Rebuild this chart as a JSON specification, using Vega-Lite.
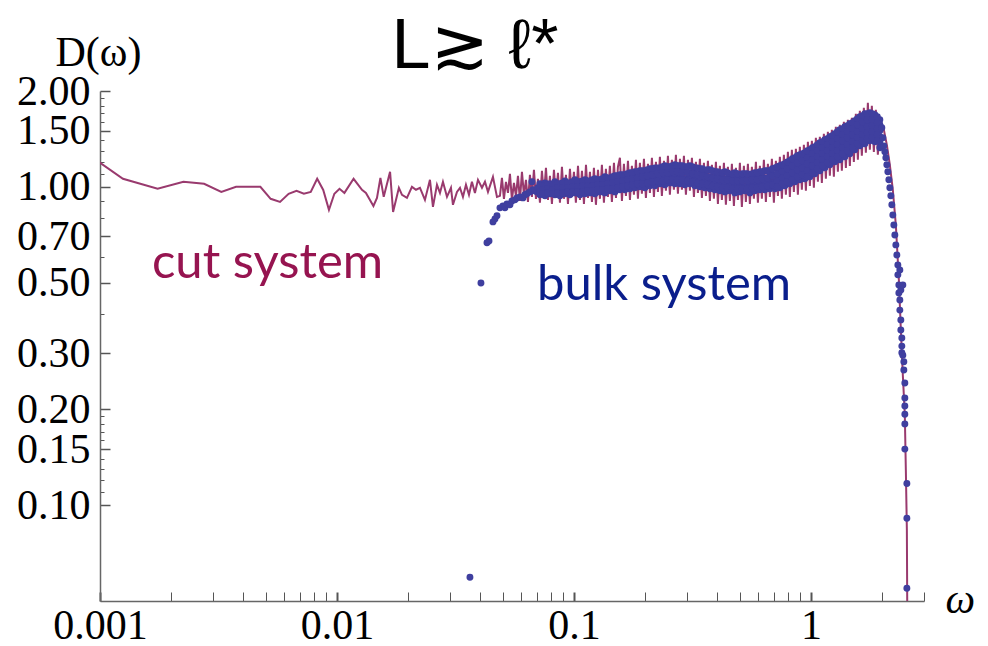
{
  "$schema": "https://vega.github.io/schema/vega-lite/v6.json",
  "width": 824,
  "height": 510,
  "autosize": {"type": "none"},
  "padding": {"left": 100, "top": 91, "right": 64, "bottom": 45},
  "background": "white",
  "config": {"view": {"stroke": null}, "axis": {"grid": false}},
  "title": {"text": "L≳ ℓ*", "font": "Liberation Sans, DejaVu Sans", "fontSize": 70, "fontWeight": "normal", "color": "black", "anchor": "middle", "frame": "group", "dx": -37, "offset": -107, "baseline": "alphabetic"},
  "datasets": {
    "cut": [
      {"w":0.00075,"d":1.38},{"w":0.00125,"d":1.06},{"w":0.00175,"d":0.986},{"w":0.00225,"d":1.037},{"w":0.00275,"d":1.022},{"w":0.00325,"d":0.964},{"w":0.00375,"d":1.0},{"w":0.00475,"d":1.0},{"w":0.00525,"d":0.917},{"w":0.00575,"d":0.897},{"w":0.00625,"d":0.951},{"w":0.00675,"d":0.971},{"w":0.00725,"d":0.951},{"w":0.00775,"d":0.964},{"w":0.00825,"d":1.06},{"w":0.00875,"d":0.978},{"w":0.00925,"d":0.847},{"w":0.00975,"d":0.951},{"w":0.01025,"d":0.986},{"w":0.01075,"d":0.957},{"w":0.01175,"d":1.06},{"w":0.01275,"d":0.978},{"w":0.01325,"d":0.957},{"w":0.01425,"d":0.871},{"w":0.01475,"d":0.923},{"w":0.01525,"d":1.067},{"w":0.01575,"d":0.93},{"w":0.01675,"d":1.115},{"w":0.01725,"d":0.834},{"w":0.01825,"d":0.993},{"w":0.01881,"d":0.944},{"w":0.01974,"d":0.923},{"w":0.02072,"d":1.0},{"w":0.02155,"d":0.979},{"w":0.0224,"d":0.993},{"w":0.02351,"d":0.91},{"w":0.02468,"d":1.052},{"w":0.02541,"d":0.865},{"w":0.02642,"d":1.015},{"w":0.0272,"d":0.957},{"w":0.028,"d":1.037},{"w":0.02912,"d":0.93},{"w":0.03027,"d":0.993},{"w":0.03086,"d":0.878},{"w":0.03209,"d":0.964},{"w":0.03304,"d":0.993},{"w":0.03401,"d":0.93},{"w":0.03502,"d":1.015},{"w":0.03606,"d":0.944},{"w":0.03711,"d":1.037},{"w":0.03821,"d":0.957},{"w":0.03935,"d":1.052},{"w":0.04091,"d":0.993},{"w":0.04212,"d":1.037},{"w":0.04337,"d":0.964},{"w":0.04552,"d":1.075},{"w":0.04733,"d":0.93},
      {"w":0.04872,"d":0.937},{"w":0.04967,"d":1.067},{"w":0.05065,"d":0.917},{"w":0.05165,"d":1.037},{"w":0.05267,"d":0.957},{"w":0.05369,"d":1.099},{"w":0.05474,"d":0.91},{"w":0.05582,"d":1.029},{"w":0.05692,"d":0.937},{"w":0.05804,"d":1.083},{"w":0.05917,"d":0.903},{"w":0.06033,"d":1.115},{"w":0.06152,"d":0.944},{"w":0.06273,"d":1.052},{"w":0.06396,"d":0.897},{"w":0.0652,"d":1.091},{"w":0.06648,"d":0.93},{"w":0.06779,"d":1.131},{"w":0.06912,"d":0.917},{"w":0.07048,"d":1.06},{"w":0.07186,"d":0.891},{"w":0.07327,"d":1.123},{"w":0.07471,"d":0.937},{"w":0.07618,"d":1.147},{"w":0.07768,"d":0.91},{"w":0.07919,"d":1.083},{"w":0.08074,"d":0.884},{"w":0.08233,"d":1.131},{"w":0.08395,"d":0.923},{"w":0.0856,"d":1.107},{"w":0.08727,"d":0.891},{"w":0.08898,"d":1.156},{"w":0.09073,"d":0.917},{"w":0.09252,"d":1.091},{"w":0.09434,"d":0.884},{"w":0.09617,"d":1.139},{"w":0.09806,"d":0.93},{"w":0.09999,"d":1.115},{"w":0.1019,"d":0.891},{"w":0.104,"d":1.164},{"w":0.106,"d":0.91},{"w":0.1081,"d":1.123},{"w":0.1102,"d":0.884},{"w":0.1124,"d":1.173},{"w":0.1146,"d":0.923},{"w":0.1168,"d":1.115},{"w":0.1191,"d":0.897},{"w":0.1214,"d":1.147},{"w":0.1238,"d":0.878},{"w":0.1263,"d":1.131},{"w":0.1287,"d":0.917},{"w":0.1312,"d":1.173},{"w":0.1338,"d":0.891},{"w":0.1364,"d":1.139},{"w":0.1391,"d":0.93},{"w":0.1418,"d":1.164},{"w":0.1446,"d":0.897},{"w":0.1475,"d":1.19},{"w":0.1504,"d":0.923},{"w":0.1533,"d":1.156},{"w":0.1563,"d":1.234},{"w":0.1594,"d":0.903},{"w":0.1625,"d":1.181},{"w":0.1657,"d":0.937},{"w":0.169,"d":1.207},{"w":0.1723,"d":0.91},{"w":0.1756,"d":1.164},{"w":0.1791,"d":0.944},{"w":0.1826,"d":1.216},{"w":0.1862,"d":0.917},{"w":0.1898,"d":1.19},{"w":0.1935,"d":0.951},{"w":0.1974,"d":1.225},{"w":0.2012,"d":0.923},{"w":0.2052,"d":1.181},{"w":0.2092,"d":0.957},{"w":0.2133,"d":1.234},{"w":0.2175,"d":0.93},{"w":0.2218,"d":1.198},{"w":0.2261,"d":0.964},{"w":0.2305,"d":1.243},{"w":0.235,"d":0.937},{"w":0.2397,"d":1.207},{"w":0.2444,"d":0.972},{"w":0.2492,"d":1.252},{"w":0.254,"d":0.944},{"w":0.259,"d":1.216},{"w":0.2641,"d":0.979},{"w":0.2693,"d":1.261},{"w":0.2746,"d":0.951},{"w":0.28,"d":1.225},{"w":0.2855,"d":0.979},{"w":0.2911,"d":1.252},{"w":0.2968,"d":0.944},{"w":0.3027,"d":1.216},{"w":0.3085,"d":0.972},{"w":0.3146,"d":1.234},{"w":0.3208,"d":0.93},{"w":0.3271,"d":1.198},{"w":0.3335,"d":0.957},{"w":0.34,"d":1.225},{"w":0.3467,"d":0.923},{"w":0.3535,"d":1.19},{"w":0.3604,"d":0.937},{"w":0.3675,"d":1.207},{"w":0.3747,"d":0.903},{"w":0.382,"d":1.173},{"w":0.3895,"d":0.917},{"w":0.3972,"d":1.198},{"w":0.405,"d":0.884},{"w":0.4129,"d":1.164},{"w":0.421,"d":0.91},{"w":0.4293,"d":1.19},{"w":0.4377,"d":0.878},{"w":0.4463,"d":1.156},{"w":0.455,"d":0.903},{"w":0.4639,"d":1.181},{"w":0.4731,"d":0.871},{"w":0.4824,"d":1.147},{"w":0.4919,"d":0.91},{"w":0.5014,"d":1.19},{"w":0.5112,"d":0.865},{"w":0.5213,"d":1.164},{"w":0.5315,"d":0.897},{"w":0.542,"d":1.181},{"w":0.5526,"d":0.884},{"w":0.5634,"d":1.156},{"w":0.5745,"d":0.917},{"w":0.5858,"d":1.198},{"w":0.5973,"d":0.891},{"w":0.6089,"d":1.164},{"w":0.6209,"d":0.917},{"w":0.6331,"d":1.216},{"w":0.6455,"d":0.897},{"w":0.6582,"d":1.181},{"w":0.671,"d":0.93},{"w":0.6842,"d":1.225},{"w":0.6977,"d":0.891},{"w":0.7114,"d":1.207},{"w":0.7254,"d":0.937},{"w":0.7395,"d":1.243},{"w":0.754,"d":0.917},{"w":0.7688,"d":1.261},{"w":0.7839,"d":0.944},{"w":0.7994,"d":1.288},{"w":0.8149,"d":0.93},{"w":0.8309,"d":1.307},{"w":0.8473,"d":0.964},{"w":0.8639,"d":1.317},{"w":0.8809,"d":0.944},{"w":0.8981,"d":1.336},{"w":0.9157,"d":0.979},{"w":0.9337,"d":1.355},{"w":0.9521,"d":0.972},{"w":0.9708,"d":1.385},{"w":0.9897,"d":1.007},{"w":1.0091,"d":1.395},{"w":1.029,"d":0.993},{"w":1.0492,"d":1.426},{"w":1.0699,"d":1.037},{"w":1.0906,"d":1.436},{"w":1.112,"d":1.029},{"w":1.1339,"d":1.468},{"w":1.1562,"d":1.06},{"w":1.1789,"d":1.489},{"w":1.2019,"d":1.083},{"w":1.2255,"d":1.511},{"w":1.2496,"d":1.075},{"w":1.2741,"d":1.544},{"w":1.2992,"d":1.115},{"w":1.3245,"d":1.566},{"w":1.3505,"d":1.123},{"w":1.3771,"d":1.601},{"w":1.4041,"d":1.147},{"w":1.4318,"d":1.624},{"w":1.4596,"d":1.164},{"w":1.4882,"d":1.648},{"w":1.5175,"d":1.198},{"w":1.5474,"d":1.696},{"w":1.5778,"d":1.216},{"w":1.6085,"d":1.733},{"w":1.64,"d":1.252},{"w":1.6723,"d":1.772},{"w":1.7052,"d":1.279},{"w":1.7388,"d":1.837},{"w":1.7726,"d":1.307},{"w":1.8073,"d":1.798},{"w":1.843,"d":1.288},{"w":1.8791,"d":1.746},{"w":1.9162,"d":1.261},{"w":1.9534,"d":1.648},{"w":2.031,"d":1.511},{"w":2.091,"d":1.355},{"w":2.1527,"d":1.173},{"w":2.216,"d":0.979},{"w":2.282,"d":0.759},{"w":2.35,"d":0.51},{"w":2.396,"d":0.355},{"w":2.4425,"d":0.256},{"w":2.49,"d":0.192},{"w":2.515,"d":0.129},{"w":2.54,"d":0.0834},{"w":2.564,"d":0.02}
    ],
    "bulk": [
      {"w":0.0364,"p":0.0594},{"w":0.04051,"p":0.499},{"w":0.04295,"p":0.667},{"w":0.0438,"p":0.676},{"w":0.04552,"p":0.776},{"w":0.04641,"p":0.793},{"w":0.04733,"p":0.811},{"w":0.04872,"p":0.859},{"w":0.05016,"p":0.871},{"w":0.05115,"p":0.859},{"w":0.05216,"p":0.884},{"w":0.05369,"p":0.878},{"w":0.05474,"p":0.903},{"w":0.05637,"p":0.91},{"w":0.05748,"p":0.923},{"w":0.05917,"p":0.93},{"w":0.06093,"p":0.923},{"w":0.06212,"p":0.944},{"w":0.06334,"p":0.951},{"w":0.0652,"p":0.964},{"w":0.06648,"p":1.037},{"w":0.06713,"p":0.979},{"w":0.06845,"p":0.972},{"w":0.0698,"p":0.964},{"w":0.07048,"p":0.993},
      {"w":0.07186,"p":1.022,"q":0.993,"r":0.964,"s":0.944},
      {"w":0.07544,"p":1.029,"q":1.0,"r":0.972,"s":0.937},
      {"w":0.07919,"p":1.022,"q":0.993,"r":0.964,"s":0.951},
      {"w":0.08313,"p":1.037,"q":1.007,"r":0.979,"s":0.944},
      {"w":0.08727,"p":1.022,"q":1.0,"r":0.972,"s":0.937},
      {"w":0.09161,"p":1.044,"q":1.007,"r":0.979,"s":0.951},
      {"w":0.09617,"p":1.029,"q":1.0,"r":0.979,"s":0.944},
      {"w":0.101,"p":1.052,"q":1.015,"r":0.986,"s":0.957},
      {"w":0.106,"p":1.037,"q":1.007,"r":0.979,"s":0.944},
      {"w":0.1113,"p":1.052,"q":1.015,"r":0.986,"s":0.951},
      {"w":0.1168,"p":1.044,"q":1.022,"r":0.986,"s":0.957},
      {"w":0.1226,"p":1.06,"q":1.022,"r":0.993,"s":0.951},
      {"w":0.1287,"p":1.052,"q":1.022,"r":0.993,"s":0.964},
      {"w":0.1351,"p":1.075,"q":1.037,"r":1.0,"s":0.957},
      {"w":0.1418,"p":1.067,"q":1.037,"r":1.007,"s":0.972},
      {"w":0.1489,"p":1.083,"q":1.044,"r":1.007,"s":0.964},
      {"w":0.1563,"p":1.091,"q":1.052,"r":1.015,"s":0.979},
      {"w":0.1641,"p":1.091,"q":1.06,"r":1.022,"s":0.979},
      {"w":0.1723,"p":1.107,"q":1.067,"r":1.029,"s":0.986},
      {"w":0.1808,"p":1.115,"q":1.075,"r":1.037,"s":0.993},
      {"w":0.1898,"p":1.123,"q":1.083,"r":1.037,"s":1.0},
      {"w":0.1993,"p":1.123,"q":1.083,"r":1.044,"s":0.993},
      {"w":0.2092,"p":1.139,"q":1.091,"r":1.052,"s":1.007},
      {"w":0.2196,"p":1.147,"q":1.099,"r":1.052,"s":1.007},
      {"w":0.2305,"p":1.147,"q":1.107,"r":1.06,"s":1.022},
      {"w":0.242,"p":1.164,"q":1.115,"r":1.067,"s":1.015},
      {"w":0.254,"p":1.156,"q":1.115,"r":1.067,"s":1.029},
      {"w":0.2667,"p":1.173,"q":1.123,"r":1.075,"s":1.022},
      {"w":0.28,"p":1.164,"q":1.115,"r":1.067,"s":1.022},
      {"w":0.2939,"p":1.156,"q":1.115,"r":1.06,"s":1.015},
      {"w":0.3085,"p":1.164,"q":1.107,"r":1.06,"s":1.022},
      {"w":0.3239,"p":1.147,"q":1.099,"r":1.052,"s":1.007},
      {"w":0.34,"p":1.139,"q":1.091,"r":1.044,"s":1.0},
      {"w":0.3569,"p":1.123,"q":1.083,"r":1.037,"s":0.993},
      {"w":0.3747,"p":1.131,"q":1.075,"r":1.029,"s":0.986},
      {"w":0.3933,"p":1.115,"q":1.067,"r":1.022,"s":0.979},
      {"w":0.4129,"p":1.107,"q":1.067,"r":1.015,"s":0.972},
      {"w":0.4334,"p":1.115,"q":1.06,"r":1.015,"s":0.964},
      {"w":0.455,"p":1.091,"q":1.052,"r":1.007,"s":0.972},
      {"w":0.4777,"p":1.107,"q":1.06,"r":1.007,"s":0.957},
      {"w":0.5014,"p":1.091,"q":1.052,"r":1.007,"s":0.964},
      {"w":0.5264,"p":1.099,"q":1.052,"r":1.0,"s":0.972},
      {"w":0.5526,"p":1.091,"q":1.044,"r":1.007,"s":0.957},
      {"w":0.5801,"p":1.107,"q":1.06,"r":1.015,"s":0.972},
      {"w":0.6089,"p":1.115,"q":1.067,"r":1.022,"s":0.979},
      {"w":0.6392,"p":1.123,"q":1.067,"r":1.022,"s":0.979},
      {"w":0.671,"p":1.123,"q":1.075,"r":1.029,"s":0.986},
      {"w":0.7045,"p":1.147,"q":1.091,"r":1.037,"s":0.986},
      {"w":0.7395,"p":1.164,"q":1.123,"r":1.075,"s":1.037,"t":0.993},
      {"w":0.7763,"p":1.181,"q":1.139,"r":1.091,"s":1.044,"t":1.007},
      {"w":0.8149,"p":1.207,"q":1.156,"r":1.115,"s":1.067,"t":1.022},
      {"w":0.8555,"p":1.234,"q":1.181,"r":1.131,"s":1.083,"t":1.037},
      {"w":0.8981,"p":1.261,"q":1.207,"r":1.156,"s":1.099,"t":1.052},
      {"w":0.9428,"p":1.279,"q":1.225,"r":1.173,"s":1.115,"t":1.06},
      {"w":0.9897,"p":1.307,"q":1.261,"r":1.207,"s":1.164,"t":1.123,"u":1.075},
      {"w":1.0389,"p":1.336,"q":1.288,"r":1.234,"s":1.19,"t":1.147,"u":1.099},
      {"w":1.0906,"p":1.375,"q":1.317,"r":1.27,"s":1.216,"t":1.173,"u":1.123},
      {"w":1.1449,"p":1.405,"q":1.345,"r":1.298,"s":1.243,"t":1.198,"u":1.147},
      {"w":1.2019,"p":1.436,"q":1.375,"r":1.326,"s":1.27,"t":1.225,"u":1.173},
      {"w":1.2617,"p":1.468,"q":1.405,"r":1.355,"s":1.298,"t":1.243,"u":1.198},
      {"w":1.3245,"p":1.511,"q":1.447,"r":1.385,"s":1.326,"t":1.27,"u":1.216},
      {"w":1.3904,"p":1.544,"q":1.478,"r":1.416,"s":1.355,"t":1.298,"u":1.243},
      {"w":1.4596,"p":1.578,"q":1.511,"r":1.447,"s":1.385,"t":1.326,"u":1.27},
      {"w":1.5323,"p":1.612,"q":1.544,"r":1.478,"s":1.416,"t":1.355,"u":1.307},
      {"w":1.6085,"p":1.66,"q":1.589,"r":1.522,"s":1.457,"t":1.395,"u":1.345},
      {"w":1.6886,"p":1.696,"q":1.624,"r":1.555,"s":1.489,"t":1.426,"u":1.365},
      {"w":1.7726,"p":1.708,"q":1.636,"r":1.566,"s":1.5,"t":1.447,"u":1.395},
      {"w":1.8608,"p":1.684,"q":1.612,"r":1.544,"s":1.489,"t":1.436,"u":1.385},
      {"w":1.9534,"p":1.624,"q":1.566,"r":1.5,"s":1.436,"t":1.385,"u":1.326},
      {"w":0.07365,"p":1.007,"q":0.979,"r":0.951},
      {"w":0.07731,"p":1.015,"q":0.986,"r":0.957},
      {"w":0.08116,"p":1.015,"q":0.979,"r":0.951},
      {"w":0.0852,"p":1.022,"q":0.993,"r":0.957},
      {"w":0.08944,"p":1.029,"q":0.993,"r":0.957},
      {"w":0.09389,"p":1.029,"q":0.993,"r":0.964},
      {"w":0.09856,"p":1.037,"q":1.0,"r":0.964},
      {"w":0.1035,"p":1.037,"q":1.0,"r":0.964},
      {"w":0.1086,"p":1.044,"q":1.007,"r":0.964},
      {"w":0.114,"p":1.044,"q":1.007,"r":0.972},
      {"w":0.1197,"p":1.052,"q":1.007,"r":0.972},
      {"w":0.1257,"p":1.052,"q":1.015,"r":0.979},
      {"w":0.1319,"p":1.06,"q":1.015,"r":0.979},
      {"w":0.1385,"p":1.067,"q":1.022,"r":0.986},
      {"w":0.1454,"p":1.075,"q":1.029,"r":0.986},
      {"w":0.1526,"p":1.083,"q":1.037,"r":0.993},
      {"w":0.1602,"p":1.091,"q":1.044,"r":1.0},
      {"w":0.1682,"p":1.099,"q":1.052,"r":1.007},
      {"w":0.1765,"p":1.107,"q":1.06,"r":1.015},
      {"w":0.1853,"p":1.115,"q":1.067,"r":1.022},
      {"w":0.1945,"p":1.123,"q":1.075,"r":1.022},
      {"w":0.2042,"p":1.131,"q":1.083,"r":1.029},
      {"w":0.2144,"p":1.139,"q":1.091,"r":1.037},
      {"w":0.225,"p":1.147,"q":1.099,"r":1.044},
      {"w":0.2362,"p":1.156,"q":1.107,"r":1.044},
      {"w":0.248,"p":1.156,"q":1.107,"r":1.052},
      {"w":0.2603,"p":1.164,"q":1.115,"r":1.052},
      {"w":0.2733,"p":1.164,"q":1.115,"r":1.052},
      {"w":0.2869,"p":1.164,"q":1.107,"r":1.052},
      {"w":0.3012,"p":1.156,"q":1.107,"r":1.044},
      {"w":0.3162,"p":1.156,"q":1.099,"r":1.037},
      {"w":0.3319,"p":1.147,"q":1.091,"r":1.029},
      {"w":0.3484,"p":1.139,"q":1.083,"r":1.022},
      {"w":0.3658,"p":1.131,"q":1.075,"r":1.015},
      {"w":0.384,"p":1.123,"q":1.067,"r":1.007},
      {"w":0.4031,"p":1.115,"q":1.06,"r":1.0},
      {"w":0.4231,"p":1.107,"q":1.052,"r":0.993},
      {"w":0.4441,"p":1.107,"q":1.052,"r":0.993},
      {"w":0.4662,"p":1.099,"q":1.044,"r":0.986},
      {"w":0.4894,"p":1.099,"q":1.044,"r":0.986},
      {"w":0.5137,"p":1.099,"q":1.044,"r":0.986},
      {"w":0.5393,"p":1.099,"q":1.044,"r":0.986},
      {"w":0.5661,"p":1.099,"q":1.052,"r":0.993},
      {"w":0.5942,"p":1.107,"q":1.052,"r":0.993},
      {"w":0.6238,"p":1.115,"q":1.06,"r":1.0},
      {"w":0.6548,"p":1.123,"q":1.067,"r":1.007},
      {"w":0.6874,"p":1.139,"q":1.083,"r":1.015},
      {"w":0.7216,"p":1.156,"q":1.099,"r":1.044,"s":1.0},
      {"w":0.7576,"p":1.173,"q":1.115,"r":1.067,"s":1.022},
      {"w":0.7953,"p":1.198,"q":1.139,"r":1.083,"s":1.037},
      {"w":0.8349,"p":1.225,"q":1.164,"r":1.107,"s":1.052},
      {"w":0.8764,"p":1.252,"q":1.19,"r":1.131,"s":1.075},
      {"w":0.92,"p":1.27,"q":1.207,"r":1.147,"s":1.091},
      {"w":0.9658,"p":1.298,"q":1.234,"r":1.181,"s":1.123,"t":1.075},
      {"w":1.0139,"p":1.326,"q":1.27,"r":1.216,"s":1.164,"t":1.107},
      {"w":1.0643,"p":1.355,"q":1.298,"r":1.243,"s":1.19,"t":1.139},
      {"w":1.1173,"p":1.385,"q":1.326,"r":1.27,"s":1.216,"t":1.164},
      {"w":1.1729,"p":1.416,"q":1.355,"r":1.298,"s":1.243,"t":1.19},
      {"w":1.2313,"p":1.447,"q":1.385,"r":1.326,"s":1.27,"t":1.216},
      {"w":1.2926,"p":1.489,"q":1.416,"r":1.355,"s":1.298,"t":1.243},
      {"w":1.3569,"p":1.522,"q":1.457,"r":1.395,"s":1.326,"t":1.27},
      {"w":1.4244,"p":1.555,"q":1.489,"r":1.426,"s":1.355,"t":1.298},
      {"w":1.4953,"p":1.589,"q":1.522,"r":1.457,"s":1.385,"t":1.326},
      {"w":1.5698,"p":1.636,"q":1.566,"r":1.489,"s":1.426,"t":1.365},
      {"w":1.6479,"p":1.672,"q":1.601,"r":1.522,"s":1.457,"t":1.395},
      {"w":1.7299,"p":1.696,"q":1.624,"r":1.544,"s":1.478,"t":1.416},
      {"w":1.816,"p":1.696,"q":1.624,"r":1.555,"s":1.489,"t":1.426},
      {"w":1.9064,"p":1.66,"q":1.589,"r":1.522,"s":1.457,"t":1.395},
      {"w":1.9917,"p":1.533},{"w":2.0112,"p":1.426},{"w":2.0309,"p":1.345},{"w":2.0507,"p":1.288},{"w":2.0708,"p":1.234},{"w":2.0911,"p":1.173},{"w":2.1116,"p":1.115},{"w":2.1323,"p":1.052},{"w":2.1527,"p":0.993},{"w":2.1738,"p":0.937},{"w":2.1949,"p":0.878},{"w":2.2164,"p":0.816},{"w":2.2382,"p":0.759},{"w":2.2599,"p":0.706},{"w":2.2821,"p":0.657},{"w":2.3044,"p":0.611},{"w":2.3271,"p":0.568,"q":0.529},{"w":2.3499,"p":0.492,"q":0.464},{"w":2.3723,"p":0.441,"q":0.41,"r":0.548},{"w":2.3955,"p":0.382,"q":0.355,"r":0.474},{"w":2.4188,"p":0.335,"q":0.316,"r":0.301},{"w":2.4425,"p":0.296,"q":0.492},{"w":2.4664,"p":0.282,"q":0.266},{"w":2.4904,"p":0.242,"q":0.217,"r":0.205,"s":0.193,"t":0.18,"u":0.15},{"w":2.54,"p":0.117,"q":0.091,"r":0.0548}
    ],
    "cutlabel": [{"w":0.001656,"d":0.5175,"t":"cut system"}],
    "bulklabel": [{"w":0.0698,"d":0.441,"t":"bulk system"}]
  },
  "encoding": {
    "x": {
      "field": "w", "type": "quantitative",
      "scale": {"type": "log", "domain": [0.001, 3], "nice": false, "zero": false},
      "axis": {
        "title": "ω", "titleFont": "Liberation Serif", "titleFontStyle": "italic", "titleFontSize": 42, "titleFontWeight": "normal", "titleColor": "black",
        "titleAngle": 0, "titleX": 845, "titleY": 11, "titleAlign": "left", "titleBaseline": "alphabetic",
        "values": [0.001,0.002,0.003,0.004,0.005,0.006,0.007,0.008,0.009,0.01,0.02,0.03,0.04,0.05,0.06,0.07,0.08,0.09,0.1,0.2,0.3,0.4,0.5,0.6,0.7,0.8,0.9,1,2,3],
        "labelExpr": "datum.value == 0.001 ? '0.001' : datum.value == 0.01 ? '0.01' : datum.value == 0.1 ? '0.1' : datum.value == 1 ? '1' : ''",
        "labelFont": "Liberation Serif", "labelFontSize": 42, "labelColor": "black", "labelPadding": 13,
        "labelOverlap": false, "labelFlush": false, "labelBound": false,
        "tickSize": -9, "tickColor": "#555555",
        "tickWidth": {"condition": {"test": "indexof([0.001,0.01,0.1,1], datum.value) >= 0", "value": 2}, "value": 1},
        "domainColor": "#666666", "domainWidth": 1.5
      }
    },
    "y": {
      "field": "d", "type": "quantitative",
      "scale": {"type": "log", "domain": [0.05, 2], "nice": false, "zero": false},
      "axis": {
        "title": "D(ω)", "titleFont": "Liberation Serif", "titleFontSize": 42, "titleFontWeight": "normal", "titleColor": "black",
        "titleAngle": 0, "titleX": -45, "titleY": -26, "titleAlign": "left", "titleBaseline": "alphabetic",
        "values": [2,1.9,1.8,1.7,1.6,1.5,1.4,1.3,1.2,1.1,1,0.9,0.8,0.7,0.6,0.5,0.4,0.3,0.2,0.19,0.18,0.17,0.16,0.15,0.14,0.13,0.12,0.11,0.1],
        "labelExpr": "indexof([2,1.5,1,0.7,0.5,0.3,0.2,0.15,0.1], datum.value) >= 0 ? format(datum.value, '.2f') : ''",
        "labelFont": "Liberation Serif", "labelFontSize": 42, "labelColor": "black", "labelPadding": 20,
        "labelOverlap": false, "labelFlush": false, "labelBound": false,
        "tickSize": {"condition": {"test": "indexof([2,1.5,1,0.7,0.5,0.3,0.2,0.15,0.1], datum.value) >= 0", "value": -10}, "value": -4},
        "tickWidth": {"condition": {"test": "indexof([2,1.5,1,0.7,0.5,0.3,0.2,0.15,0.1], datum.value) >= 0", "value": 1.5}, "value": 1},
        "tickColor": "#555555",
        "domainColor": "#666666", "domainWidth": 1.5
      }
    }
  },
  "layer": [
    {
      "data": {"name": "cut"},
      "mark": {"type": "line", "color": "#993a6e", "strokeWidth": 2, "clip": true}
    },
    {
      "data": {"name": "bulk"},
      "transform": [{"fold": ["p","q","r","s","t","u"], "as": ["k","d"]}, {"filter": "isValid(datum.d)"}],
      "mark": {"type": "circle", "color": "#3f3f9f", "opacity": 1, "size": 48, "clip": true}
    },
    {
      "data": {"name": "cutlabel"},
      "mark": {"type": "text", "font": "Lato", "fontSize": 49, "color": "#961450", "align": "left", "baseline": "alphabetic"},
      "encoding": {"text": {"field": "t"}}
    },
    {
      "data": {"name": "bulklabel"},
      "mark": {"type": "text", "font": "Lato", "fontSize": 49, "color": "#0a1e8c", "align": "left", "baseline": "alphabetic"},
      "encoding": {"text": {"field": "t"}}
    }
  ]
}
